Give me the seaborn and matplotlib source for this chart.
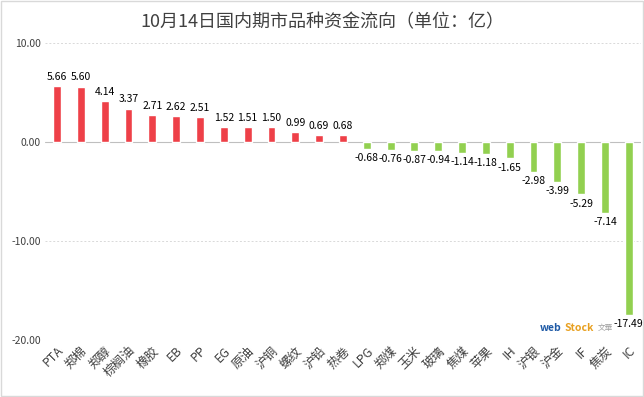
import matplotlib
matplotlib.use("Agg")
import matplotlib.pyplot as plt
import seaborn as sns
import pandas as pd
from matplotlib.patches import Rectangle

categories = ["PTA", "郑棉", "郑醇", "棕榈油", "橡胶", "EB", "PP", "EG", "原油", "沪铜",
              "螺纹", "沪铅", "热卷", "LPG", "郑煤", "玉米", "玻璃", "焦煤", "苹果", "IH",
              "沪银", "沪金", "IF", "焦炭", "IC"]
values = [5.66, 5.60, 4.14, 3.37, 2.71, 2.62, 2.51, 1.52, 1.51, 1.50,
          0.99, 0.69, 0.68, -0.68, -0.76, -0.87, -0.94, -1.14, -1.18, -1.65,
          -2.98, -3.99, -5.29, -7.14, -17.49]
yticks = [10, 0, -10, -20]

sns.set_theme(style="white")
plt.rcParams['font.family'] = ['Noto Sans CJK SC', 'DejaVu Sans']

df = pd.DataFrame({"cat": categories, "val": values})
df["sign"] = ["pos" if v >= 0 else "neg" for v in values]

fig = plt.figure(figsize=(6.44, 3.97), dpi=100)
ax = fig.add_axes([0.070, 0.1436, 0.925, 0.748])

sns.barplot(data=df, x="cat", y="val", hue="sign",
            palette={"pos": "#EE4048", "neg": "#92D050"}, saturation=1,
            dodge=False, width=0.33, legend=False, ax=ax)

ax.set_ylim(-20, 10)
ax.set_yticks(yticks)
ax.set_yticklabels([f"{t:.2f}" for t in yticks], fontsize=7.5, color="#404040")
for t in yticks:
    if t == 0:
        ax.axhline(t, color="#BFBFBF", lw=0.8, zorder=0)
    else:
        ax.axhline(t, color="#D9D9D9", lw=0.7, ls=(0, (2, 2)), zorder=0)
ax.set_xlim(-0.5, len(categories) - 0.5)
ax.set_xticks(range(len(categories)))
ax.set_xticklabels(categories, rotation=45, ha="right", rotation_mode="anchor",
                   fontsize=9, color="#404040")
ax.tick_params(axis="both", length=0, pad=3)
ax.set_xlabel("")
ax.set_ylabel("")
for s in ax.spines.values():
    s.set_visible(False)

for i, v in enumerate(values):
    if v >= 0:
        ax.annotate(f"{v:.2f}", (i, v), xytext=(0, 3), textcoords="offset points",
                    ha="center", va="bottom", fontsize=7.5, color="#000000")
    else:
        ax.annotate(f"{v:.2f}", (i, v), xytext=(0, -3), textcoords="offset points",
                    ha="center", va="top", fontsize=7.5, color="#000000")

fig.text(0.5, 0.945, "10月14日国内期市品种资金流向（单位：亿）", ha="center", va="center",
         fontsize=13, color="#404040")

fig.text(0.838, 0.175, "web", color="#1F5AA6", fontsize=7.5, fontweight="bold", ha="left", va="center")
fig.text(0.876, 0.175, "Stock", color="#E8A020", fontsize=7.5, fontweight="bold", ha="left", va="center")
fig.text(0.928, 0.175, "文華", color="#A0A0A0", fontsize=5.5, ha="left", va="center")

fig.patches.append(Rectangle((0.002, 0.002), 0.996, 0.996, transform=fig.transFigure,
                             fill=False, edgecolor="#D9D9D9", lw=1))

fig.savefig("out.png", dpi=100)
